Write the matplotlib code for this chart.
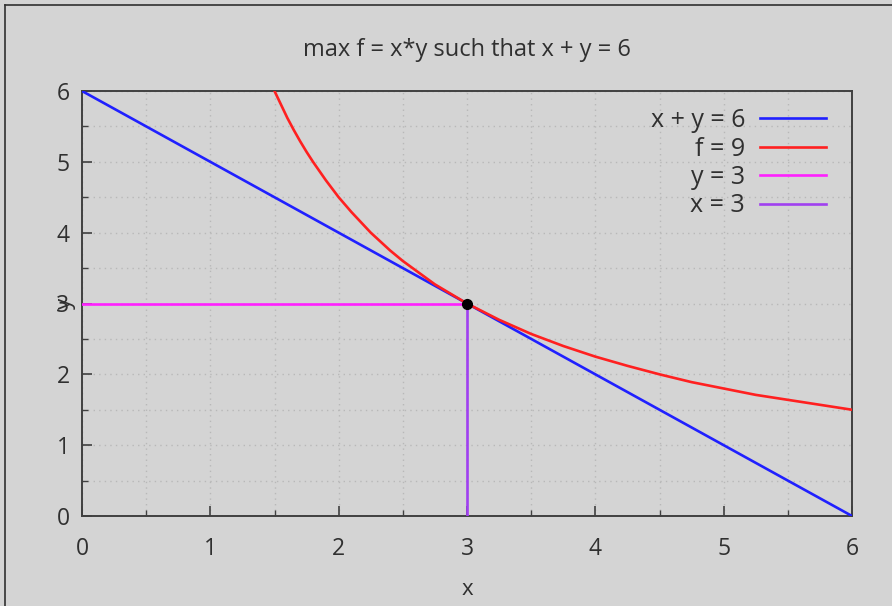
import matplotlib
matplotlib.use("Agg")
import matplotlib.pyplot as plt
from matplotlib.lines import Line2D
import numpy as np

plt.rcParams['font.family'] = ['Open Sans', 'DejaVu Sans']

# Data
line_x = [0, 6]
line_y = [6, 0]
curve_x = [1.5, 1.55, 1.6, 1.65, 1.7, 1.75, 1.8, 1.9, 2.0, 2.1, 2.25, 2.4, 2.5, 2.75,
           3.0, 3.25, 3.5, 3.75, 4.0, 4.25, 4.5, 4.75, 5.0, 5.25, 5.5, 5.75, 6.0]
curve_y = [6.0, 5.81, 5.62, 5.45, 5.29, 5.14, 5.0, 4.74, 4.5, 4.29, 4.0, 3.75, 3.6, 3.27,
           3.0, 2.77, 2.57, 2.4, 2.25, 2.12, 2.0, 1.89, 1.8, 1.71, 1.64, 1.57, 1.5]
hline_x = [0, 3]
hline_y = [3, 3]
vline_x = [3, 3]
vline_y = [0, 3]
opt_x = [3]
opt_y = [3]
labels = ["x + y = 6", "f = 9", "y = 3", "x = 3"]
xticks = [0, 1, 2, 3, 4, 5, 6]
yticks = [0, 1, 2, 3, 4, 5, 6]

bg = '#d4d4d4'
txt = '#303030'
fig = plt.figure(figsize=(8.92, 6.06), dpi=100, facecolor=bg)
ax = fig.add_axes([82/892, 90/606, 770/892, 425/606])
ax.set_facecolor(bg)

lw = 1.9
ax.plot(line_x, line_y, color='#2020ff', lw=lw, label=labels[0], zorder=3)
ax.plot(curve_x, curve_y, color='#ff2020', lw=lw, label=labels[1], zorder=4)
ax.plot(hline_x, hline_y, color='#ff20ff', lw=lw, label=labels[2], zorder=3)
ax.plot(vline_x, vline_y, color='#a040f0', lw=lw, label=labels[3], zorder=3)
ax.plot(opt_x, opt_y, 'o', color='black', ms=7, zorder=5)

ax.set_xlim(0, 6)
ax.set_ylim(0, 6)
ax.set_xticks(xticks)
ax.set_yticks(yticks)
ax.set_xticks(np.arange(0.5, 6, 1.0), minor=True)
ax.set_yticks(np.arange(0.5, 6, 1.0), minor=True)
ax.tick_params(which='major', direction='in', length=7, width=1.2, color='#404040',
               labelsize=16.5, labelcolor=txt)
ax.tick_params(axis='x', which='major', pad=15)
ax.tick_params(axis='y', which='major', pad=9)
ax.tick_params(which='minor', direction='in', length=4, width=1.0, color='#404040')
ax.tick_params(top=False, right=False, which='both')
ax.grid(True, which='both', color='#b8b8b8', linestyle=(0, (1, 3)), lw=1.0)
for s in ax.spines.values():
    s.set_color('#404040')
    s.set_linewidth(1.4)

ax.set_title("max f = x*y such that x + y = 6", fontsize=17, color=txt, pad=25)
ax.set_xlabel("x", fontsize=16, color=txt, labelpad=13)
ax.set_ylabel("y", fontsize=16, color=txt, labelpad=-14)

leg = ax.legend(loc='upper right', frameon=False, markerfirst=False, fontsize=18,
                handlelength=2.64, labelspacing=0.14, borderaxespad=0, borderpad=0,
                handletextpad=0.6, bbox_to_anchor=(1 - 26/770, 1 - 17/425))
for t in leg.get_texts():
    t.set_color(txt)
    t.set_ha('right')

fig.add_artist(Line2D([5/892, 5/892], [0, 1 - 5/606], color='#303030', lw=1.2))
fig.add_artist(Line2D([5/892, 1], [1 - 5/606, 1 - 5/606], color='#303030', lw=1.2))

fig.savefig("out.png", dpi=100, facecolor=bg)
